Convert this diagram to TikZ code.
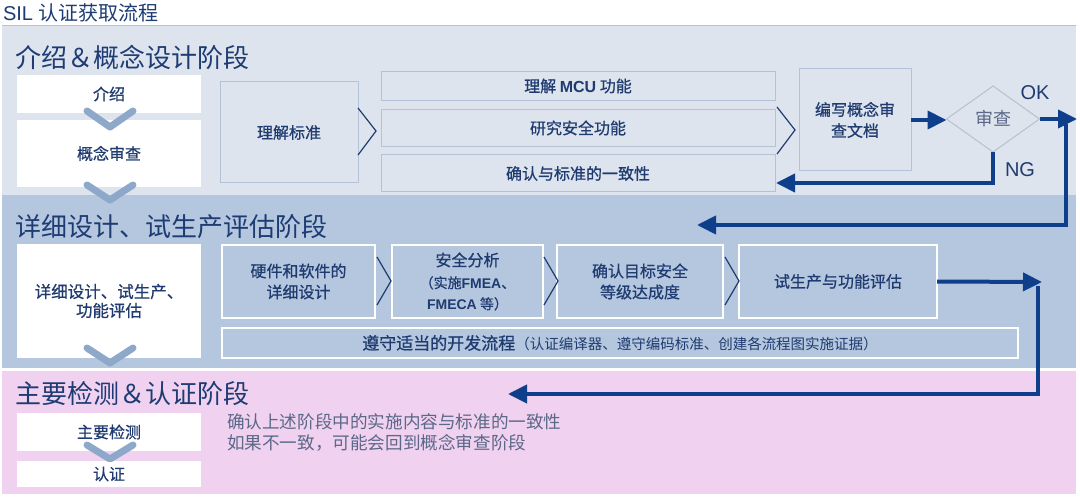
\documentclass[tikz,border=0pt]{standalone}
\usepackage{fontspec}
\setmainfont{Liberation Sans}
\newfontfamily\cjk{Noto Sans CJK SC}
\newfontfamily\cjkm[FakeBold=0.7]{Noto Sans CJK SC}
\usetikzlibrary{arrows.meta,shapes.geometric}
\definecolor{bandA}{HTML}{DDE4EE}
\definecolor{bandB}{HTML}{B4C7DF}
\definecolor{bandC}{HTML}{F0D1EF}
\definecolor{boxline}{HTML}{B3C2D6}
\definecolor{txt}{HTML}{1F3B6F}
\definecolor{head}{HTML}{1E3C74}
\definecolor{arrc}{HTML}{0F3F8A}
\definecolor{chev}{HTML}{8EA8CA}
\definecolor{gtxt}{HTML}{5B6888}
\definecolor{diam}{HTML}{B8C0CC}
\newcommand{\lat}[1]{{\rmfamily\bfseries #1}}
\begin{document}
\begin{tikzpicture}[x=1pt,y=-1pt,
  every node/.style={inner sep=0pt,outer sep=0pt,text=txt,font=\cjkm\fontsize{16}{21}\selectfont},
  headtxt/.style={anchor=west,text=head,font=\cjk\fontsize{26}{30}\selectfont},
  whitebox/.style={fill=white,minimum width=184pt,align=center},
  boxA/.style={fill=bandA,draw=boxline,line width=1pt,align=center},
  boxB/.style={fill=bandB,draw=white,line width=2pt,align=center},
  flow/.style={draw=arrc,line width=4pt,-{Triangle[length=19pt,width=18pt]}},
  thinchev/.style={draw=txt,line width=1.2pt},
  vchev/.style={draw=chev,line width=7pt,line cap=round,line join=round},
  lbl/.style={text=txt,font=\rmfamily\fontsize{20}{22}\selectfont}
]
\useasboundingbox (0,0) rectangle (1080,497);
\fill[white] (0,0) rectangle (1080,497);
% bands
\fill[bandA] (2,25) rectangle (1076,195);
\draw[boxline,line width=0.8pt] (2,25.4) -- (1076,25.4);
\fill[bandB] (2,195) rectangle (1076,368);
\fill[bandC] (2,371) rectangle (1076,494);

% title
\node[anchor=west,text=head,font=\rmfamily\fontsize{20}{22}\selectfont] (title) at (3,13) {SIL {\cjk 认证获取流程}};

% ---------- band 1 ----------
\node[headtxt] (h1) at (16,57) {介绍＆概念设计阶段};
\node[whitebox,minimum height=38pt] (intro) at (109,94) {介绍};
\node[whitebox,minimum height=67pt] (cr) at (109,153.5) {概念审查};
\draw[vchev] (87,111) -- (110,127) -- (133,111);
\draw[vchev] (87,185) -- (110,200) -- (133,185);

\node[boxA,minimum width=138pt,minimum height=101pt] (std) at (289,132.5) {理解标准};
\draw[thinchev] (358,108) -- (376,131) -- (358,155);
\node[boxA,minimum width=394pt,minimum height=29pt] (mcu) at (578,86) {理解 \lat{MCU} 功能};
\node[boxA,minimum width=394pt,minimum height=37pt] (sf) at (578,128) {研究安全功能};
\node[boxA,minimum width=394pt,minimum height=37pt] (cons) at (578,173.5) {确认与标准的一致性};
\draw[thinchev] (777,107) -- (795,130) -- (777,154);
\node[boxA,minimum width=112pt,minimum height=102pt] (doc) at (855,120) {编写概念审\\查文档};
\node[diamond,draw=diam,line width=1pt,fill=bandA,minimum width=93pt,minimum height=66pt,
      text=gtxt,font=\cjk\fontsize{18}{21}\selectfont] (rev) at (993,119) {审查};
\node[lbl] (ok) at (1035,93) {OK};
\node[lbl] (ng) at (1020,170) {NG};

\coordinate (okT) at (1077,119);
\coordinate (up1) at (1066,124);
\coordinate (upL) at (697,225);
\coordinate (ngL) at (776,183);
\draw[flow] (doc.east) -- (doc.east -| rev.west);
\draw[flow] (rev.east) -- (okT);
\draw[flow] (rev.south) |- (ngL);
\draw[flow] (up1) |- (upL);

% ---------- band 2 ----------
\node[headtxt] (h2) at (16,227) {详细设计、试生产评估阶段};
\node[whitebox,minimum height=114pt,font=\cjkm\fontsize{16.5}{19}\selectfont] (dleft) at (109,301) {详细设计、试生产、\\功能评估};
\draw[vchev] (87,348) -- (110,363) -- (133,348);

\node[boxB,minimum width=153pt,minimum height=73pt] (hw) at (298.5,281.5) {硬件和软件的\\详细设计};
\node[boxB,minimum width=151pt,minimum height=73pt] (sa) at (467.5,281.5)
  {安全分析\\[1pt]{\fontsize{14}{19}\selectfont（实施\lat{FMEA}、}\\{\fontsize{14}{17}\selectfont\lat{FMECA} 等）}};
\node[boxB,minimum width=166pt,minimum height=73pt] (ct) at (640,281.5) {确认目标安全\\等级达成度};
\node[boxB,minimum width=198pt,minimum height=73pt] (tp) at (838,281.5) {试生产与功能评估};
\node[boxB,minimum width=796pt,minimum height=30pt] (dev) at (620,343)
  {{\fontsize{17}{20}\selectfont 遵守适当的开发流程}{\cjk\fontsize{14.5}{18}\selectfont（认证编译器、遵守编码标准、创建各流程图实施证据）}};
\draw[thinchev] (377,257) -- (391,281) -- (377,305);
\draw[thinchev] (544,257) -- (558,281) -- (544,305);
\draw[thinchev] (725,257) -- (739,281) -- (725,305);

\coordinate (tpR) at (1042,282);
\coordinate (lo1) at (1038,286);
\coordinate (loL) at (508,394);
\draw[flow] (tp.east) -- (tpR);
\draw[flow] (lo1) |- (loL);

% ---------- band 3 ----------
\node[headtxt] (h3) at (16,394) {主要检测＆认证阶段};
\node[whitebox,minimum height=38pt] (mt) at (109,432) {主要检测};
\node[whitebox,minimum height=26pt] (ce) at (109,474) {认证};
\draw[vchev] (87,445) -- (110,459) -- (133,445);
\node[anchor=north west,align=left,text=gtxt,font=\cjk\fontsize{17.6}{21}\selectfont] (note) at (227,414)
  {确认上述阶段中的实施内容与标准的一致性\\如果不一致，可能会回到概念审查阶段};
\end{tikzpicture}
\end{document}
